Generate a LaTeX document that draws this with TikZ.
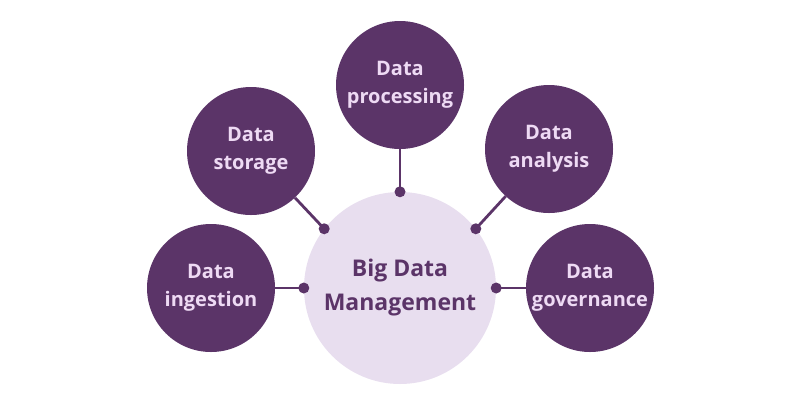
\documentclass[tikz,border=0pt]{standalone}
\usepackage{fontspec}
\setmainfont{Open Sans}
\definecolor{dpurple}{HTML}{5B3468}
\definecolor{ltext}{HTML}{EEDAF4}
\definecolor{lfill}{HTML}{E8DEEF}
\begin{document}
\begin{tikzpicture}[x=1pt,y=-1pt,
  sat/.style={circle,fill=dpurple,minimum size=128pt,inner sep=0pt,text=ltext,
    font=\bfseries\fontsize{20}{28}\selectfont,align=center},
  hub/.style={circle,fill=lfill,minimum size=192pt,inner sep=0pt,text=dpurple,
    font=\bfseries\fontsize{23}{34}\selectfont,align=center},
  link/.style={draw=dpurple,line width=2.8pt},
  dot/.style={fill=dpurple}]
\useasboundingbox (0,0) rectangle (800,400);
\node[hub] (hub) at (400,288) {Big Data\\Management};
\node[sat] (proc) at (400,85) {Data\\processing};
\node[sat] (stor) at (251,151) {Data\\storage};
\node[sat] (anal) at (549,149) {Data\\analysis};
\node[sat] (inge) at (211,288) {Data\\ingestion};
\node[sat] (gove) at (590,288) {Data\\governance};
\coordinate (dp) at (hub.90);
\coordinate (ds) at (hub.142);
\coordinate (da) at (hub.38);
\coordinate (di) at (hub.180);
\coordinate (dg) at (hub.0);
\draw[link] (proc) -- (dp);
\draw[link] (stor) -- (ds);
\draw[link] (anal) -- (da);
\draw[link] (inge) -- (di);
\draw[link] (gove) -- (dg);
\foreach \d in {dp,ds,da,di,dg} \fill[dot] (\d) circle (5.5);
\end{tikzpicture}
\end{document}
